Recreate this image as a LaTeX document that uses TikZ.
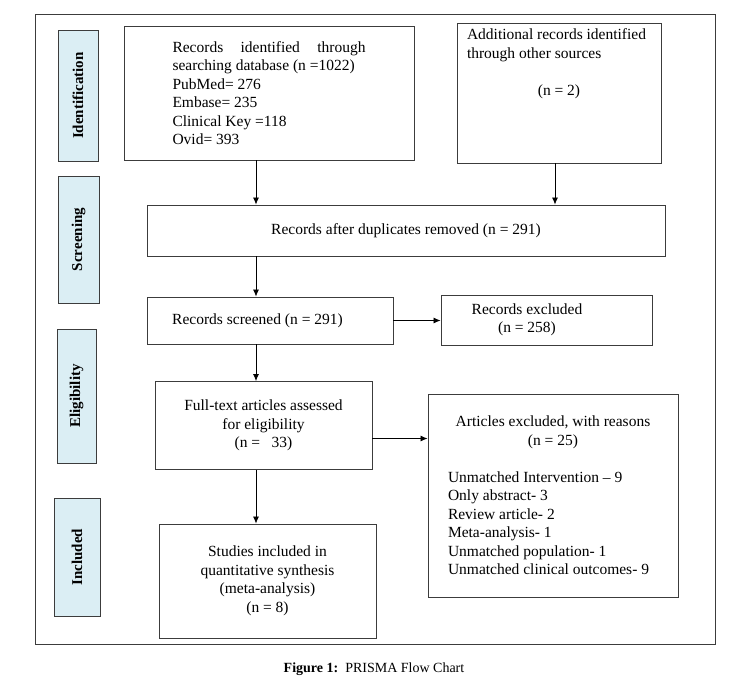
\documentclass[tikz,border=0pt]{standalone}
\usepackage{fontspec}
\setmainfont{Liberation Serif}
\usetikzlibrary{arrows.meta}
\definecolor{stagefill}{HTML}{DBEEF4}
\definecolor{boxline}{HTML}{3C3C3C}

\begin{document}
\begin{tikzpicture}[x=1pt, y=-1pt,
	box/.style={draw=boxline, line width=0.9pt, inner sep=0pt, align=center, font=\fontsize{15.5}{18.5}\selectfont},
	stage/.style={draw=boxline, line width=0.9pt, fill=stagefill, inner sep=0pt, rotate=90, font=\fontsize{15}{18}\selectfont\bfseries},
	arr/.style={-{Latex[length=7pt,width=6pt]}, line width=0.8pt}]

		\useasboundingbox (0,0) rectangle (750,689);

		\node [draw=boxline, line width=0.9pt, minimum width=680, minimum height=630] (0) at (375,329) {};
		\node [stage, minimum width=131, minimum height=40] (1) at (78,95.5) {Identification};
		\node [stage, minimum width=127, minimum height=41] (2) at (78.5,239.5) {Screening};
		\node [stage, minimum width=134, minimum height=39] (3) at (76.5,396) {Eligibility};
		\node [stage, minimum width=118, minimum height=46] (4) at (77,557) {Included};

		\node [box, minimum width=290, minimum height=134] (5) at (269,93) {\parbox{193pt}{\makebox[193pt][s]{Records identified through}\\searching database (n =1022)\\PubMed= 276\\Embase= 235\\Clinical Key =118\\Ovid= 393}};
		\node [box, minimum width=204, minimum height=140] (6) at (559,93) {\parbox[c][128pt][t]{184pt}{Additional records identified\\through other sources\par\vspace{18.5pt}\centering (n = 2)}};
		\node [box, minimum width=518, minimum height=51] (7) at (406,230.5) {Records after duplicates removed (n = 291)};
		\node [box, minimum width=246, minimum height=47] (8) at (270,320.5) {Records screened (n = 291)\hspace*{25pt}};
		\node [box, minimum width=211, minimum height=50] (9) at (546.5,320) {\begin{tabular}{@{}c@{}}Records excluded\\(n = 258)\end{tabular}\hspace*{39pt}};
		\node [box, minimum width=217, minimum height=88] (10) at (263.5,425.5) {Full-text articles assessed\\for eligibility\\(n = \ \ 33)};
		\node [box, minimum width=250, minimum height=203] (11) at (553,495.5) {\parbox{210pt}{\centering Articles excluded, with reasons\\(n = 25)\par\vspace{18.5pt}\raggedright Unmatched Intervention -- 9\\Only abstract- 3\\Review article- 2\\Meta-analysis- 1\\Unmatched population- 1\\Unmatched clinical outcomes- 9}};
		\node [box, minimum width=217, minimum height=114] (12) at (267.5,581) {Studies included in\\quantitative synthesis\\(meta-analysis)\\(n = 8)};
		\node [font=\fontsize{14}{17}\selectfont] (13) at (374,669) {\textbf{Figure 1:}\ \ PRISMA Flow Chart};
		\coordinate (14) at (256,0);

		\draw [arr] (5.south -| 14) to (7.north -| 14);
		\draw [arr] ([xshift=-4pt]6.south) to ([xshift=-4pt]6.south |- 7.north);
		\draw [arr] (7.south -| 14) to (8.north -| 14);
		\draw [arr] (8.south -| 14) to (10.north -| 14);
		\draw [arr] (8.east) to (8.east -| 9.west);
		\draw [arr] ([yshift=-13pt]10.east) to ([yshift=-13pt]10.east -| 11.west);
		\draw [arr] (10.south -| 14) to (12.north -| 14);
\end{tikzpicture}
\end{document}
